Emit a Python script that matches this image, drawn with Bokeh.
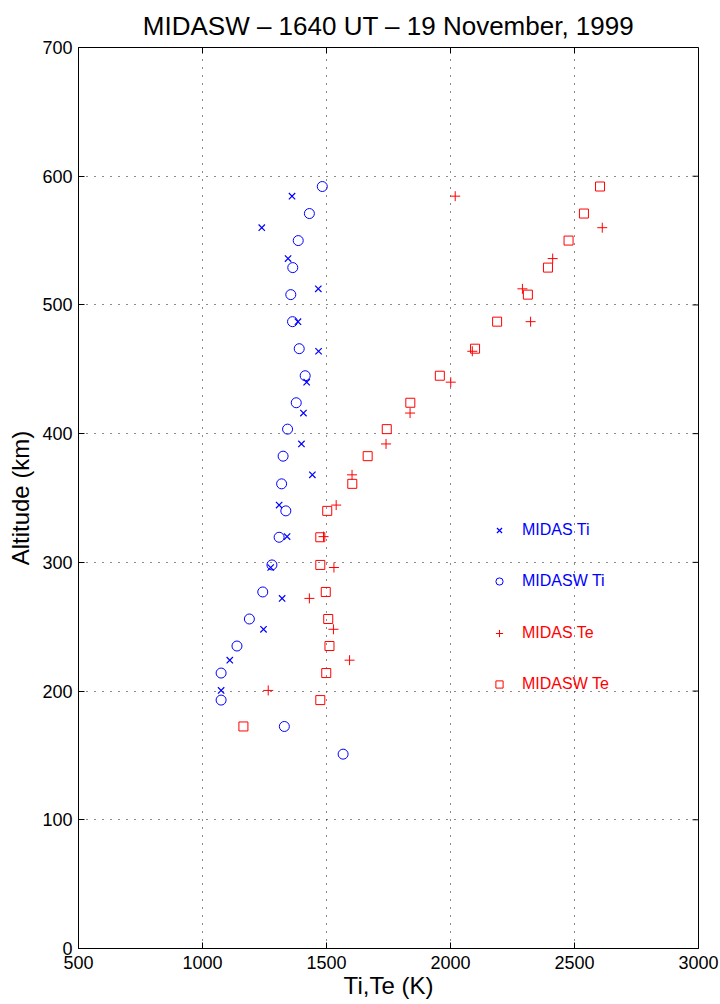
import math
from bokeh.plotting import figure
from bokeh.models import Range1d, FixedTicker, Legend, LegendItem
from bokeh.embed import file_html
from bokeh.resources import INLINE

# ---- data ----
midas_alt = [584.5, 560, 536, 512.5, 487, 464, 440, 416, 392, 368, 344.5, 320, 296, 272, 248, 224, 200.5]
midas_ti = [1361, 1239, 1345, 1467, 1385, 1468, 1420, 1407, 1399, 1443, 1309, 1341, 1275, 1321, 1246, 1110, 1075]
midas_te = [2019, 2612, 2412, 2290, 2323, 2088, 2001, 1837, 1740, 1603, 1539, 1488, 1530, 1431, 1528, 1593, 1265]

midasw_alt = [592, 571, 550, 529, 508, 487, 466, 445, 424, 403.5, 382.5, 361, 340, 319.5, 298, 277, 256, 235, 214, 193, 172.5, 151]
midasw_ti = [1483, 1431, 1386, 1364, 1356, 1363, 1390, 1414, 1378, 1343, 1325, 1319, 1336, 1309, 1280, 1243, 1189, 1139, 1075, 1075, 1330, 1567]
midasw_te_alt = [592, 571, 550, 529, 508, 487, 466, 445, 424, 403.5, 382.5, 361, 340, 319.5, 298, 277, 256, 235, 214, 193, 172.5]
midasw_te = [2603, 2538, 2476, 2393, 2312, 2188, 2099, 1957, 1838, 1743, 1666, 1604, 1503, 1475, 1475, 1497, 1507, 1512, 1499, 1475, 1165]

x_ticks = [500, 1000, 1500, 2000, 2500, 3000]
y_ticks = [0, 100, 200, 300, 400, 500, 600, 700]
x_min, x_max = 500, 3000
y_min, y_max = 0, 700

title_text = "MIDASW \u2013 1640 UT \u2013 19 November, 1999"
x_label = "Ti,Te (K)"
y_label = "Altitude (km)"

FONT = "Liberation Sans"
BLUE = "#0000ff"
RED = "#ff0000"

W, H = 720, 1004
ML, MR, MT, MB = 78, 22, 47, 56

p = figure(width=W, height=H, output_backend="svg", toolbar_location=None,
           x_range=Range1d(x_min, x_max), y_range=Range1d(y_min, y_max),
           min_border_left=ML, min_border_right=MR, min_border_top=MT, min_border_bottom=MB)

xb = p.below[0]
yl = p.left[0]

p.title.text = title_text
p.title.align = "center"
p.title.text_font = FONT
p.title.text_font_size = "26px"
p.title.text_font_style = "normal"
p.title.text_color = "black"
p.title.standoff = 14

p.outline_line_color = "black"
p.outline_line_width = 1
p.background_fill_color = "white"
p.border_fill_color = "white"

for ax in (xb, yl):
    ax.major_tick_in = 6
    ax.major_tick_out = 0
    ax.minor_tick_in = 0
    ax.minor_tick_out = 0
    ax.axis_line_color = "black"
    ax.major_tick_line_color = "black"
    ax.major_label_text_font = FONT
    ax.major_label_text_font_size = "18px"
    ax.major_label_text_color = "black"
    ax.axis_label_text_font = FONT
    ax.axis_label_text_font_size = "24px"
    ax.axis_label_text_font_style = "normal"
    ax.axis_label_text_color = "black"

xb.ticker = FixedTicker(ticks=x_ticks)
yl.ticker = FixedTicker(ticks=y_ticks)
xb.axis_label = x_label
yl.axis_label = y_label
xb.major_label_standoff = 7
yl.major_label_standoff = 6
xb.axis_label_standoff = 0
yl.axis_label_standoff = 5

for g in (p.xgrid[0], p.ygrid[0]):
    g.grid_line_color = "black"
    g.grid_line_dash = "1 7"
    g.grid_line_width = 1
    g.grid_line_alpha = 0.9
p.xgrid[0].ticker = FixedTicker(ticks=x_ticks)
p.ygrid[0].ticker = FixedTicker(ticks=y_ticks)

# inward ticks on the top and right edges of the box
p.ray(x=x_ticks, y=[y_max] * len(x_ticks), length=6, length_units="screen",
      angle=-math.pi / 2, line_color="black", line_width=1)
p.ray(x=[x_max] * len(y_ticks), y=y_ticks, length=6, length_units="screen",
      angle=math.pi, line_color="black", line_width=1)

r1 = p.scatter(midas_ti, midas_alt, marker="x", size=9, line_color=BLUE, line_width=1.2)
r2 = p.scatter(midasw_ti, midasw_alt, marker="circle", size=10, line_color=BLUE, fill_color=None, line_width=1)
r3 = p.scatter(midas_te, midas_alt, marker="cross", size=10, line_color=RED, line_width=1)
r4 = p.scatter(midasw_te, midasw_te_alt, marker="square", size=9, line_color=RED, fill_color=None, line_width=1)

def make_legend(items, color, y):
    lg = Legend(items=items, location=(412, y), orientation="vertical",
                label_text_font=FONT, label_text_font_size="16px", label_text_color=color,
                glyph_width=18, glyph_height=18, label_height=18, label_standoff=14,
                spacing=33, padding=0, margin=0,
                border_line_alpha=0, background_fill_alpha=0)
    p.add_layout(lg, "center")

make_legend([LegendItem(label="MIDAS Ti", renderers=[r1]),
             LegendItem(label="MIDASW Ti", renderers=[r2])], BLUE, 358)
make_legend([LegendItem(label="MIDAS Te", renderers=[r3]),
             LegendItem(label="MIDASW Te", renderers=[r4])], RED, 255)

open("out.html", "w").write(file_html(p, INLINE))
